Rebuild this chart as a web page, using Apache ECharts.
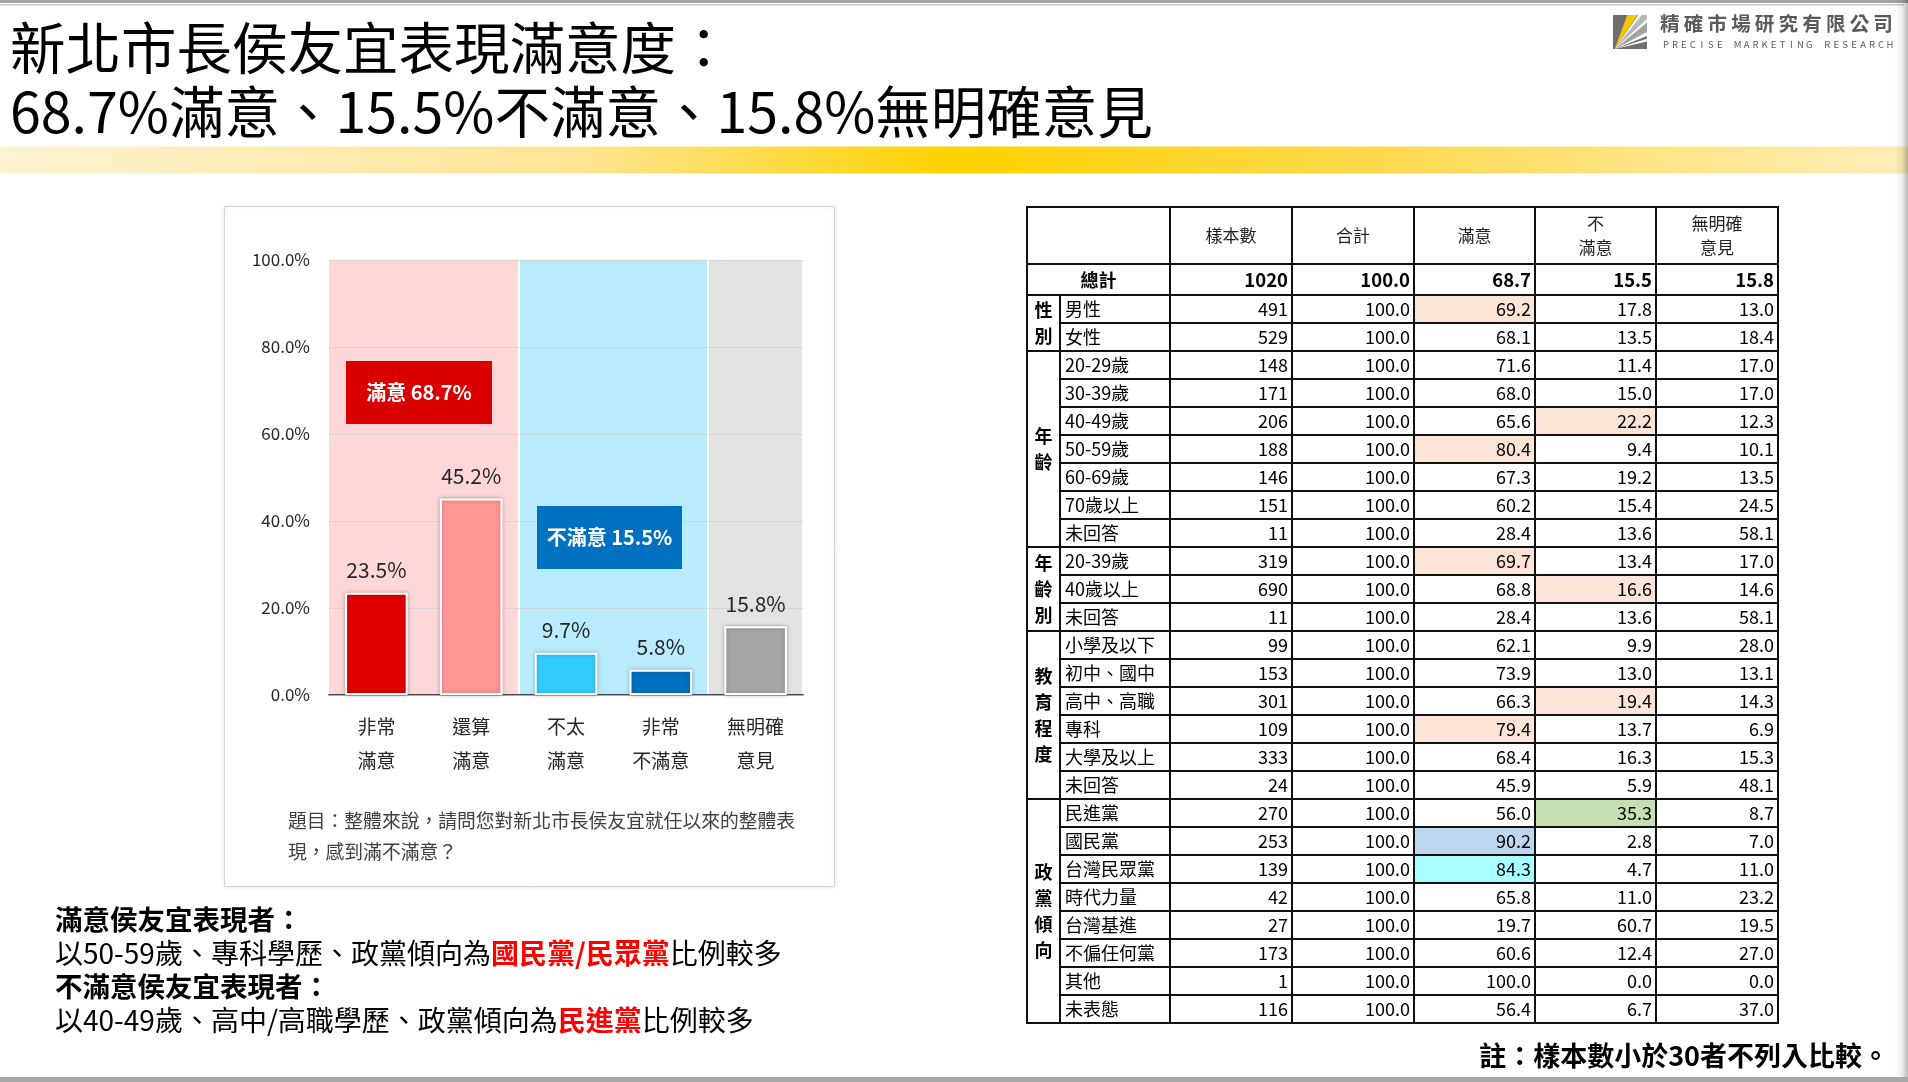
<!DOCTYPE html>
<html><head><meta charset="utf-8">
<script src="https://cdn.jsdelivr.net/npm/echarts@6/dist/echarts.min.js"></script>
<style>html,body{margin:0;padding:0;background:#fff;}#chart{width:1908px;height:1082px;}</style>
</head><body><div id="chart"></div>
<script>
const FONT = '"Noto Sans CJK TC","Noto Sans",sans-serif';

// ---------------- data ----------------
const titleLine1 = '新北市長侯友宜表現滿意度：';
const summaryLabels = ['滿意', '不滿意', '無明確意見'];
const summaryValues = [68.7, 15.5, 15.8];

const barCategories = ['非常\n滿意', '還算\n滿意', '不太\n滿意', '非常\n不滿意', '無明確\n意見'];
const barValues = [23.5, 45.2, 9.7, 5.8, 15.8];

const questionText = '題目：整體來說，請問您對新北市長侯友宜就任以來的整體表\n現，感到滿不滿意？';

const tableHeaders = ['樣本數', '合計', '滿意', '不\n滿意', '無明確\n意見'];
const totalRowLabel = '總計';
const totalRow = [1020, 100.0, 68.7, 15.5, 15.8];
const groupNames = ['性別', '年齡', '年齡別', '教育程度', '政黨傾向'];
const groupSizes = [2, 7, 3, 6, 8];
const rowLabels = ['男性','女性','20-29歲','30-39歲','40-49歲','50-59歲','60-69歲','70歲以上','未回答',
  '20-39歲','40歲以上','未回答',
  '小學及以下','初中、國中','高中、高職','專科','大學及以上','未回答',
  '民進黨','國民黨','台灣民眾黨','時代力量','台灣基進','不偏任何黨','其他','未表態'];
const sampleN = [491,529,148,171,206,188,146,151,11,319,690,11,99,153,301,109,333,24,270,253,139,42,27,173,1,116];
const rowTotal = [100.0,100.0,100.0,100.0,100.0,100.0,100.0,100.0,100.0,100.0,100.0,100.0,100.0,100.0,100.0,100.0,100.0,100.0,100.0,100.0,100.0,100.0,100.0,100.0,100.0,100.0];
const satisfied = [69.2,68.1,71.6,68.0,65.6,80.4,67.3,60.2,28.4,69.7,68.8,28.4,62.1,73.9,66.3,79.4,68.4,45.9,56.0,90.2,84.3,65.8,19.7,60.6,100.0,56.4];
const dissatisfied = [17.8,13.5,11.4,15.0,22.2,9.4,19.2,15.4,13.6,13.4,16.6,13.6,9.9,13.0,19.4,13.7,16.3,5.9,35.3,2.8,4.7,11.0,60.7,12.4,0.0,6.7];
const noOpinion = [13.0,18.4,17.0,17.0,12.3,10.1,13.5,24.5,58.1,17.0,14.6,58.1,28.0,13.1,14.3,6.9,15.3,48.1,8.7,7.0,11.0,23.2,19.5,27.0,0.0,37.0];
// highlight marks: p = peach, b = blue, c = cyan, g = green
const satisfiedMark = ['p','','','','','p','','','','p','','','','','','p','','','','b','c','','','','',''];
const dissatisfiedMark = ['','','','','p','','','','','','p','','','','p','','','','g','','','','','','',''];

const noteSatisfiedTitle = '滿意侯友宜表現者：';
const noteSatisfied = ['以50-59歲、專科學歷、政黨傾向為', '國民黨/民眾黨', '比例較多'];
const noteDissatisfiedTitle = '不滿意侯友宜表現者：';
const noteDissatisfied = ['以40-49歲、高中/高職學歷、政黨傾向為', '民進黨', '比例較多'];
const footnote = '註：樣本數小於30者不列入比較。';
const logoName = '精確市場研究有限公司';
const logoSub = 'PRECISE MARKETING RESEARCH';

// ---------------- styles / layout ----------------
const barColors = ['#e00000', '#ff9797', '#33ccff', '#0070c0', '#a6a6a6'];
const bandColors = ['#fdd7d8', '#fdd7d8', '#b8ebfc', '#b8ebfc', '#e3e3e3'];
const markColors = { p: '#fce4d6', b: '#bdd7ee', c: '#a9ffff', g: '#c6e0b4' };
const TBL = { colEdges: [0, 0.0445, 0.1910, 0.3526, 0.5147, 0.6763, 0.8378, 1], headerH: 2.02, totalH: 1.13 };

// ---------------- build table cells ----------------
const cells = [];
const E = TBL.colEdges, H = TBL.headerH, T = TBL.totalH;
const fmtCol = (j, v) => j === 0 ? String(v) : v.toFixed(1);
cells.push({ x0: E[0], x1: E[2], y0: 0, y1: H, text: '' });
tableHeaders.forEach((h, j) => cells.push({ x0: E[2 + j], x1: E[3 + j], y0: 0, y1: H, text: h, align: 'center', size: 17, lh: 24, color: '#222' }));
cells.push({ x0: E[0], x1: E[2], y0: H, y1: H + T, text: totalRowLabel, align: 'center', bold: true });
totalRow.forEach((v, j) => cells.push({ x0: E[2 + j], x1: E[3 + j], y0: H, y1: H + T, text: fmtCol(j, v), align: 'right', bold: true, size: 18.5 }));
let r0 = 0;
groupNames.forEach((g, gi) => {
  const y0 = H + T + r0;
  cells.push({ x0: E[0], x1: E[1], y0: y0, y1: y0 + groupSizes[gi], text: g.split('').join('\n'), align: 'center', bold: true, lh: 26 });
  r0 += groupSizes[gi];
});
rowLabels.forEach((lab, r) => {
  const y0 = H + T + r, y1 = y0 + 1;
  cells.push({ x0: E[1], x1: E[2], y0, y1, text: lab, align: 'left' });
  const cols = [sampleN[r], rowTotal[r], satisfied[r], dissatisfied[r], noOpinion[r]];
  cols.forEach((v, j) => {
    let fill = '#fff';
    if (j === 2 && satisfiedMark[r]) fill = markColors[satisfiedMark[r]];
    if (j === 3 && dissatisfiedMark[r]) fill = markColors[dissatisfiedMark[r]];
    cells.push({ x0: E[2 + j], x1: E[3 + j], y0, y1, text: fmtCol(j, v), align: 'right', fill });
  });
});
const tableMaxY = H + T + rowLabels.length;

// ---------------- graphics ----------------
function logoGraphics() {
  const ox = 1613, oy = 15, s = 34;
  const P = pts => pts.map(p => [ox + p[0] * s, oy + p[1] * s]);
  const els = [
    { type: 'rect', shape: { x: ox, y: oy, width: s, height: s }, style: { fill: '#6e6e6e' } },
    { type: 'polygon', shape: { points: P([[0.05, 1], [0.74, 0], [1, 0], [1, 0.62]]) }, style: { fill: '#fff' } },
    { type: 'polygon', shape: { points: P([[0.05, 1], [0.84, 0], [1, 0], [1, 0.12]]) }, style: { fill: '#b8b8b8' } },
    { type: 'polygon', shape: { points: P([[0.05, 1], [1, 0.22], [1, 0.5]]) }, style: { fill: '#a3a3a3' } },
    { type: 'polygon', shape: { points: P([[0.05, 1], [1, 0.7], [1, 0.78]]) }, style: { fill: '#fff' } },
    { type: 'polygon', shape: { points: P([[0.05, 1], [0.42, 0], [0.72, 0]]) }, style: { fill: '#f7c600' } }
  ];
  const nameStep = 23.7;
  logoName.split('').forEach((ch, i) => els.push({ type: 'text', style: { text: ch, x: 1669.8 + i * nameStep, y: 24, align: 'center', textAlign: 'center', verticalAlign: 'middle', textVerticalAlign: 'middle', font: 'bold 19.5px ' + FONT, fill: '#5a5a5a' } }));
  const subStep = (1890 - 1666) / (logoSub.length - 1);
  logoSub.split('').forEach((ch, i) => els.push({ type: 'text', style: { text: ch, x: 1666 + i * subStep, y: 44.5, align: 'center', textAlign: 'center', verticalAlign: 'middle', textVerticalAlign: 'middle', font: '9.5px ' + FONT, fill: '#5a5a5a' } }));
  return els;
}
function txt(text, x, y, font, fill, align, extra) {
  return Object.assign({ type: 'text', style: Object.assign({ text, x, y, font, fill, align: align || 'left', textAlign: align || 'left', verticalAlign: 'middle', textVerticalAlign: 'middle' }, extra || {}) });
}
const richNote = {
  n: { fontSize: 28, fontFamily: FONT, fill: '#000', fontWeight: 'normal' },
  r: { fontSize: 28, fontFamily: FONT, fill: '#ff0000', fontWeight: 'bold' }
};

const graphics = [
  // slide edges
  { type: 'rect', z: 50, shape: { x: 0, y: 0, width: 1908, height: 3 }, style: { fill: '#a3a3a3' } },
  { type: 'rect', z: 50, shape: { x: 0, y: 4, width: 1904, height: 1.5 }, style: { fill: '#c8c8c8' } },
  { type: 'rect', z: 50, shape: { x: 1894, y: 0, width: 14, height: 1082 },
    style: { fill: new echarts.graphic.LinearGradient(0, 0, 1, 0, [{ offset: 0, color: 'rgba(0,0,0,0)' }, { offset: 0.6, color: 'rgba(0,0,0,0.08)' }, { offset: 1, color: 'rgba(0,0,0,0.28)' }]) } },
  { type: 'rect', z: 50, shape: { x: 0, y: 1077, width: 1908, height: 5 }, style: { fill: '#a8a8a8' } },
  // yellow band
  { type: 'rect', z: 1, shape: { x: 0, y: 146.5, width: 1908, height: 27 },
    style: { fill: new echarts.graphic.LinearGradient(0, 0, 1, 0, [
      { offset: 0, color: '#fdf3d2' }, { offset: 0.3, color: '#fde595' }, { offset: 0.5, color: '#ffd200' },
      { offset: 0.72, color: '#fed94e' }, { offset: 1, color: '#fdeeb8' }]) } },
  // chart frame
  { type: 'rect', z: -10, shape: { x: 224.5, y: 206.5, width: 610, height: 680 },
    style: { fill: '#fff', stroke: '#d4d4d4', lineWidth: 1, shadowBlur: 5, shadowColor: 'rgba(0,0,0,0.12)' } },
  // annotation boxes
  { type: 'rect', z: 20, shape: { x: 346, y: 361, width: 146, height: 63 }, style: { fill: '#d90000' } },
  txt(summaryLabels[0] + ' ' + summaryValues[0].toFixed(1) + '%', 419, 392.5, 'bold 20px ' + FONT, '#fff', 'center'),
  { type: 'rect', z: 20, shape: { x: 537, y: 506, width: 145, height: 63 }, style: { fill: '#0070c0' } },
  txt(summaryLabels[1] + ' ' + summaryValues[1].toFixed(1) + '%', 609.5, 537.5, 'bold 20px ' + FONT, '#fff', 'center'),
  // question
  txt(questionText, 288, 836.5, '18.8px ' + FONT, '#404040', 'left', { lineHeight: 31 }),
  // notes
  txt(noteSatisfiedTitle, 55, 920, 'bold 27.5px ' + FONT, '#000', 'left'),
  { type: 'text', style: { text: '{n|' + noteSatisfied[0] + '}{r|' + noteSatisfied[1] + '}{n|' + noteSatisfied[2] + '}', rich: richNote, x: 55, y: 953, verticalAlign: 'middle', textVerticalAlign: 'middle' } },
  txt(noteDissatisfiedTitle, 55, 987, 'bold 27.5px ' + FONT, '#000', 'left'),
  { type: 'text', style: { text: '{n|' + noteDissatisfied[0] + '}{r|' + noteDissatisfied[1] + '}{n|' + noteDissatisfied[2] + '}', rich: richNote, x: 55, y: 1020, verticalAlign: 'middle', textVerticalAlign: 'middle' } },
  // footnote
  txt(footnote, 1889, 1056, 'bold 27px ' + FONT, '#000', 'right')
].concat(logoGraphics());
graphics.forEach(g => { if (g.z === undefined) g.z = 20; });

// ---------------- chart ----------------
const chart = echarts.init(document.getElementById('chart'), null, { renderer: 'canvas' });
chart.setOption({
  backgroundColor: '#fff',
  animation: false,
  textStyle: { fontFamily: FONT },
  title: {
    text: titleLine1 + '\n' + summaryValues[0] + '%' + summaryLabels[0] + '、' + summaryValues[1] + '%' + summaryLabels[1] + '、' + summaryValues[2] + '%' + summaryLabels[2],
    left: 10, top: 16, padding: 0,
    textStyle: { fontSize: 55.5, lineHeight: 64, fontWeight: 'normal', color: '#000', fontFamily: FONT }
  },
  grid: [
    { left: 329, right: 1105, top: 260, bottom: 387, containLabel: false },
    { left: 1027, right: 130, top: 207, bottom: 59, containLabel: false }
  ],
  xAxis: [
    {
      type: 'category', gridIndex: 0, data: barCategories, z: 1,
      axisTick: { show: false },
      axisLine: { lineStyle: { color: '#1a1a1a', width: 1.5 } },
      axisLabel: { fontSize: 19, lineHeight: 34, color: '#262626', margin: 15, fontFamily: FONT, interval: 0 },
      splitArea: { show: true, interval: 0, areaStyle: { color: bandColors } },
      splitLine: { show: true, interval: (i) => i === 2 || i === 4, lineStyle: { color: '#fff', width: 2 } }
    },
    { type: 'value', gridIndex: 1, min: 0, max: 1, show: false }
  ],
  yAxis: [
    {
      type: 'value', gridIndex: 0, min: 0, max: 100, interval: 20, z: 2,
      axisLine: { show: false }, axisTick: { show: false },
      axisLabel: { formatter: v => v.toFixed(1) + '%', fontSize: 17, color: '#262626', margin: 19, fontFamily: FONT },
      splitLine: { lineStyle: { color: '#cfcfcf', width: 1, opacity: 0.7 } }
    },
    { type: 'value', gridIndex: 1, min: 0, max: tableMaxY, inverse: true, show: false }
  ],
  series: [
    {
      type: 'bar', xAxisIndex: 0, yAxisIndex: 0, z: 3, barWidth: '66%',
      data: barValues.map((v, i) => ({ value: v, itemStyle: { color: barColors[i] } })),
      itemStyle: { borderColor: '#fff', borderWidth: 2, shadowBlur: 4, shadowColor: 'rgba(0,0,0,0.25)' },
      label: { show: true, position: 'top', distance: 12, fontSize: 21, color: '#262626', fontFamily: FONT, formatter: p => p.value.toFixed(1) + '%' }
    },
    {
      type: 'custom', xAxisIndex: 1, yAxisIndex: 1, silent: true, clip: false, z: 5,
      encode: { x: [0, 1], y: [2, 3] },
      data: cells.map(c => [c.x0, c.x1, c.y0, c.y1]),
      renderItem: function (params, api) {
        const c = cells[params.dataIndex];
        const p0 = api.coord([api.value(0), api.value(2)]);
        const p1 = api.coord([api.value(1), api.value(3)]);
        const x0 = Math.round(p0[0]), y0 = Math.round(p0[1]);
        const x1 = Math.round(p1[0]), y1 = Math.round(p1[1]);
        const children = [{
          type: 'rect', shape: { x: x0, y: y0, width: x1 - x0, height: y1 - y0 },
          style: { fill: c.fill || '#fff', stroke: '#111', lineWidth: 2 }
        }];
        if (c.text) {
          const size = c.size || 18;
          const tx = c.align === 'right' ? x1 - 4 : (c.align === 'left' ? x0 + 5 : (x0 + x1) / 2);
          children.push({
            type: 'text',
            style: {
              text: c.text, x: tx, y: (y0 + y1) / 2 + 0.5,
              align: c.align, textAlign: c.align, verticalAlign: 'middle', textVerticalAlign: 'middle',
              font: (c.bold ? 'bold ' : '') + size + 'px ' + FONT, fill: c.color || '#000',
              lineHeight: c.lh || size + 4
            }
          });
        }
        return { type: 'group', children };
      }
    }
  ],
  graphic: { elements: graphics }
});
</script></body></html>
